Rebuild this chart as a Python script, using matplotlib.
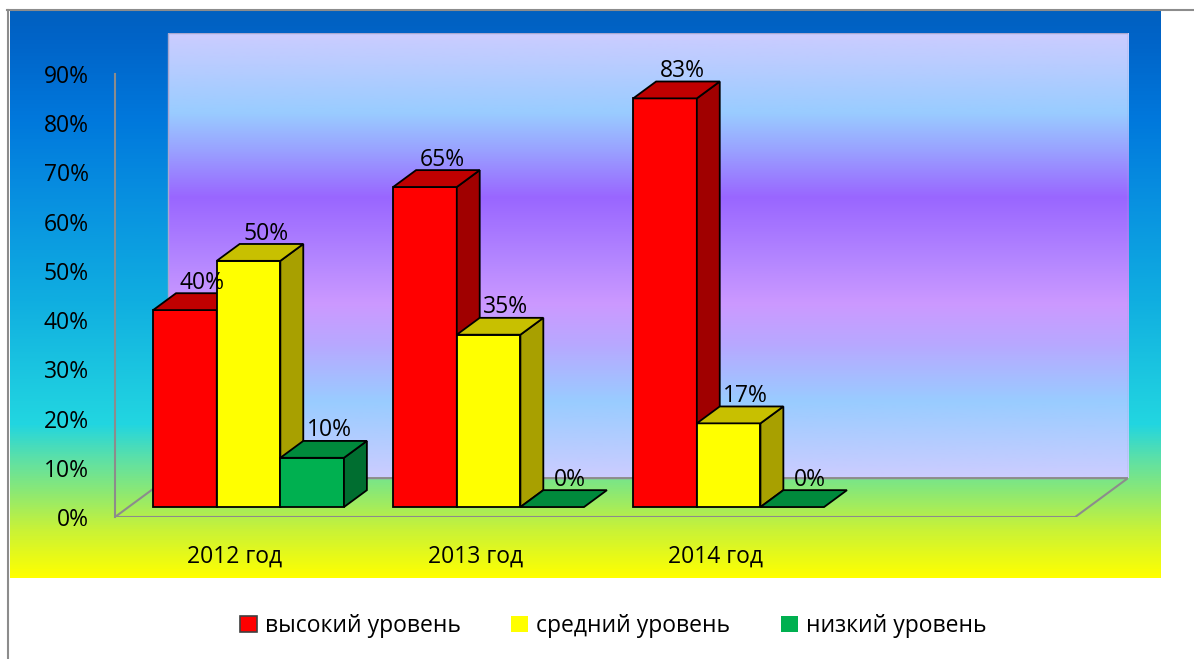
import numpy as np
import matplotlib.pyplot as plt
from matplotlib.patches import Polygon, Patch
from matplotlib.colors import LinearSegmentedColormap
from matplotlib.lines import Line2D

plt.rcParams['font.family'] = ['Open Sans', 'DejaVu Sans']

# data
years = ['2012 год', '2013 год', '2014 год']
levels = ['высокий уровень', 'средний уровень', 'низкий уровень']
high = [40, 65, 83]
mid = [50, 35, 17]
low = [10, 0, 0]
y_ticks = [0, 10, 20, 30, 40, 50, 60, 70, 80, 90]

# colours: front, top, side
face_cols = ['#FF0000', '#FFFF00', '#00B050']
top_cols = ['#C00000', '#C8C000', '#008A3C']
side_cols = ['#A00000', '#A8A000', '#006E30']

W, H = 1194, 659
FS = 16.5
fig = plt.figure(figsize=(W / 100, H / 100), dpi=100)


def px_box(x0, y0, x1, y1):
    # pixel box (origin top-left) -> figure fraction
    return [x0 / W, 1 - y1 / H, (x1 - x0) / W, (y1 - y0) / H]


# background gradient
bg_cmap = LinearSegmentedColormap.from_list('bg', [
    (0.0, '#0060C0'), (0.05, '#0064C8'), (0.19, '#0078DC'), (0.33, '#0890E0'),
    (0.51, '#10AEE0'), (0.65, '#1CC8E0'), (0.73, '#22D6E0'), (0.79, '#5CE0A8'),
    (0.845, '#88E878'), (0.915, '#C8F238'), (1.0, '#FFFF00')])
bg = fig.add_axes(px_box(10, 11, 1161, 578), zorder=0)
bg.imshow(np.linspace(0, 1, 512).reshape(-1, 1), cmap=bg_cmap, aspect='auto')
bg.axis('off')

wall_cmap = LinearSegmentedColormap.from_list('wall', [
    (0.0, '#CCCCFF'), (0.06, '#BCCCFF'), (0.18, '#99CCFF'), (0.26, '#9AA4FF'),
    (0.37, '#9966FF'), (0.52, '#B688FF'), (0.61, '#CC99FF'), (0.70, '#B8A8FF'),
    (0.83, '#99CCFF'), (1.0, '#CCCCFF')])

ax = fig.add_axes(px_box(115, 33, 1128, 517), zorder=1)
ax.patch.set_alpha(0)

n_slots = 4
ymax = 98.3
DX, DY = 0.22, 7.9          # floor depth
f0, f1 = 0.256, 0.69        # bar depth range (fraction of floor depth)
bw = 0.265

# back wall
ax.imshow(np.linspace(0, 1, 512).reshape(-1, 1), cmap=wall_cmap, aspect='auto',
          extent=(DX, n_slots + DX, DY, ymax), zorder=1)
ax.add_patch(Polygon([(DX, DY), (n_slots + DX, DY), (n_slots + DX, ymax), (DX, ymax)],
                     closed=True, fill=False, edgecolor='#A8A8D0', lw=1, zorder=1.5))
# floor
ax.add_patch(Polygon([(0, 0), (n_slots, 0), (n_slots + DX, DY), (DX, DY)],
                     closed=True, fill=False, edgecolor='#8C8C8C', lw=1.5, zorder=2))

series = [high, mid, low]
ddx, ddy = (f1 - f0) * DX, (f1 - f0) * DY
for i in range(len(years)):
    for j, vals in enumerate(series):
        h = vals[i]
        x0 = i + 0.5 + (j - 1.5) * bw + f0 * DX
        y0 = f0 * DY
        front = [(x0, y0), (x0 + bw, y0), (x0 + bw, y0 + h), (x0, y0 + h)]
        top = [(x0, y0 + h), (x0 + bw, y0 + h), (x0 + bw + ddx, y0 + h + ddy), (x0 + ddx, y0 + h + ddy)]
        side = [(x0 + bw, y0), (x0 + bw + ddx, y0 + ddy), (x0 + bw + ddx, y0 + h + ddy), (x0 + bw, y0 + h)]
        z = 3 + i * 0.1 + j * 0.01
        if h > 0:
            ax.add_patch(Polygon(front, closed=True, facecolor=face_cols[j], edgecolor='black',
                                 lw=1.3, zorder=z))
            ax.add_patch(Polygon(side, closed=True, facecolor=side_cols[j], edgecolor='black',
                                 lw=1.3, zorder=z))
        ax.add_patch(Polygon(top, closed=True, facecolor=top_cols[j], edgecolor='black',
                             lw=1.3, zorder=z))
        ax.text(x0 + bw / 2 + ddx * 0.75, y0 + h + ddy + 0.9, f'{h}%', ha='center',
                va='baseline', fontsize=FS, zorder=10)

ax.set_xlim(0, n_slots + DX)
ax.set_ylim(0, ymax)
for s in ['top', 'right', 'bottom']:
    ax.spines[s].set_visible(False)
ax.spines['left'].set_bounds(0, 90)
ax.spines['left'].set_color('#8C8C8C')
ax.spines['left'].set_linewidth(1.5)
ax.set_yticks(y_ticks, labels=[f'{t}%' for t in y_ticks])
ax.set_xticks([0.5, 1.5, 2.5], labels=years)
ax.tick_params(axis='y', length=0, pad=19, labelsize=FS)
ax.tick_params(axis='x', length=0, pad=20, labelsize=FS)

# legend
handles = [Patch(facecolor=face_cols[0], edgecolor='#404040', lw=1.2),
           Patch(facecolor=face_cols[1], edgecolor='none'),
           Patch(facecolor=face_cols[2], edgecolor='none')]
fig.legend(handles, levels, loc='center', bbox_to_anchor=(613 / W, 1 - 626 / H), ncol=3,
           frameon=False, fontsize=FS, handlelength=0.75, handleheight=0.75,
           handletextpad=0.35, columnspacing=2.2)

# outer frame lines
fig.add_artist(Line2D([7 / W, 1], [1 - 10 / H] * 2, color='#8C8C8C', lw=1.5))
fig.add_artist(Line2D([8 / W] * 2, [0, 1 - 10 / H], color='#8C8C8C', lw=1.5))

fig.savefig('out.png', dpi=100)
